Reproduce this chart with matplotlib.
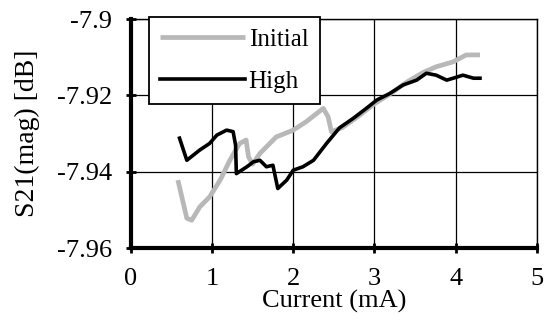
import numpy as np
from matplotlib import pyplot as plt

# values
x_high = [0.60, 0.69, 0.85, 0.97, 1.06, 1.18, 1.26, 1.29, 1.30, 1.43, 1.51, 1.59, 1.67,
          1.75, 1.81, 1.92, 2.00, 2.12, 2.25, 2.41, 2.57, 2.74, 2.90, 3.03, 3.19, 3.35,
          3.52, 3.64, 3.76, 3.89, 3.97, 4.09, 4.22, 4.30]
y_high = [-7.9312, -7.9370, -7.9343, -7.9326, -7.9304, -7.9291, -7.9295, -7.9330, -7.9405,
          -7.9387, -7.9374, -7.9370, -7.9387, -7.9383, -7.9444, -7.9422, -7.9396, -7.9387,
          -7.9370, -7.9326, -7.9285, -7.9260, -7.9234, -7.9212, -7.9195, -7.9173, -7.9160,
          -7.9142, -7.9147, -7.9160, -7.9155, -7.9147, -7.9155, -7.9155]

x_init = [0.58, 0.69, 0.75, 0.85, 0.97, 1.10, 1.22, 1.34, 1.42, 1.45, 1.50, 1.59, 1.79,
          2.00, 2.16, 2.37, 2.43, 2.47, 2.60, 2.80, 3.00, 3.20, 3.40, 3.60, 3.76, 3.97,
          4.13, 4.30]
y_init = [-7.9422, -7.9522, -7.9527, -7.9492, -7.9466, -7.9422, -7.9370, -7.9326, -7.9317,
          -7.9361, -7.9380, -7.9352, -7.9309, -7.9291, -7.9269, -7.9234, -7.9256, -7.9295,
          -7.9285, -7.9255, -7.9222, -7.9195, -7.9165, -7.9140, -7.9125, -7.9112, -7.9094,
          -7.9094]

xticks = [0, 1, 2, 3, 4, 5]
yticks = [-7.96, -7.94, -7.92, -7.9]
ytick_labels = ['-7.96', '-7.94', '-7.92', '-7.9']

plt.rcParams['font.family'] = ['Liberation Serif', 'DejaVu Serif']

fig = plt.figure(figsize=(5.45, 3.23), dpi=100)
ax = fig.add_axes([0.240, 0.232, 0.745, 0.709])

ax.plot(x_init, y_init, color='#b8b8b8', lw=3.4, label='Initial', solid_capstyle='butt')
ax.plot(x_high, y_high, color='black', lw=2.6, label='High')

ax.set_xlim(0, 5)
ax.set_ylim(-7.96, -7.9)
ax.set_xticks(xticks)
ax.set_yticks(yticks)
ax.set_yticklabels(ytick_labels)
ax.grid(True, color='black', lw=0.9)
ax.set_axisbelow(True)

for s in ['top', 'right']:
    ax.spines[s].set_linewidth(1.0)
for s in ['left', 'bottom']:
    ax.spines[s].set_linewidth(3.0)

ax.tick_params(direction='inout', length=7, width=2, labelsize=19)
ax.tick_params(axis='y', pad=10)
ax.tick_params(axis='x', pad=11)

ax.set_xlabel('Current (mA)', fontsize=19, labelpad=0)
ax.set_ylabel('S21(mag) [dB]', fontsize=20, labelpad=12)

leg = ax.legend(loc='upper left', bbox_to_anchor=(0.044, 1.01), borderaxespad=0,
                fancybox=False, edgecolor='black', framealpha=1, handlelength=3.4,
                handletextpad=0.15, labelspacing=0.8, fontsize=18, borderpad=0.45)
leg.get_frame().set_linewidth(1.3)

plt.savefig('out.png', dpi=100)
